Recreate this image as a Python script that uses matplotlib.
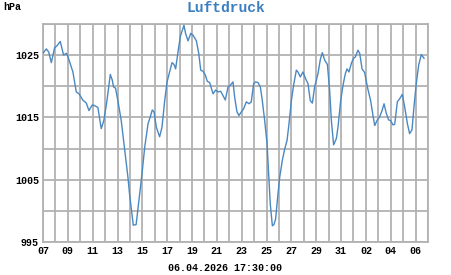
import matplotlib
matplotlib.use("Agg")
import matplotlib.pyplot as plt
from matplotlib.ticker import MultipleLocator, FixedLocator

# days since 07.03.2026 00:00 and pressure in hPa
days = [0.0, 0.27, 0.46, 0.67, 0.94, 1.13, 1.39, 1.66, 1.88, 2.0, 2.41, 2.68, 2.9,
        3.2, 3.49, 3.7, 3.97, 4.16, 4.42, 4.69, 4.9, 5.15, 5.42, 5.58, 5.68, 5.84,
        6.03, 6.3, 6.57, 6.84, 6.97, 7.27, 7.5, 7.72, 7.97, 8.19, 8.46, 8.64, 8.8,
        8.94, 9.13, 9.39, 9.58, 9.8, 9.99, 10.2, 10.39, 10.55, 10.68, 10.87, 11.06,
        11.22, 11.35, 11.49, 11.68, 11.9, 12.08, 12.35, 12.54, 12.7, 12.89, 13.07,
        13.23, 13.42, 13.69, 13.9, 14.09, 14.31, 14.5, 14.68, 14.9, 15.1, 15.3,
        15.43, 15.62, 15.78, 15.97, 16.16, 16.37, 16.59, 16.77, 16.96, 17.12, 17.31,
        17.5, 17.66, 17.85, 18.04, 18.2, 18.3, 18.47, 18.6, 18.73, 18.92, 19.06,
        19.27, 19.46, 19.65, 19.81, 20.0, 20.18, 20.4, 20.53, 20.72, 20.93, 21.15,
        21.34, 21.52, 21.69, 21.87, 22.14, 22.33, 22.49, 22.68, 22.9, 23.08, 23.22,
        23.4, 23.62, 23.75, 23.97, 24.16, 24.34, 24.48, 24.64, 24.83, 25.01, 25.15,
        25.36, 25.5, 25.69, 25.9, 26.12, 26.38, 26.57, 26.71, 26.92, 27.11, 27.3,
        27.46, 27.65, 27.83, 27.99, 28.18, 28.32, 28.53, 28.72, 28.93, 29.12, 29.34,
        29.52, 29.71, 29.87, 30.06, 30.25, 30.46, 30.6, 30.68]
pressure = [1025.3, 1026.0, 1025.5, 1023.8, 1026.2, 1026.5, 1027.2, 1025.0, 1025.3,
            1024.8, 1022.3, 1019.1, 1018.8, 1017.8, 1017.3, 1016.1, 1017.0, 1016.9,
            1016.6, 1013.2, 1014.5, 1017.7, 1021.9, 1021.0, 1019.9, 1019.7, 1017.7,
            1014.5, 1009.9, 1005.4, 1002.7, 997.7, 997.8, 1001.6, 1005.9, 1010.2,
            1014.0, 1015.1, 1016.2, 1015.9, 1013.4, 1011.9, 1013.4, 1017.7, 1020.7,
            1022.3, 1023.8, 1023.5, 1022.8, 1025.5, 1028.0, 1029.0, 1029.8, 1028.4,
            1027.3, 1028.5, 1028.2, 1027.3, 1025.3, 1022.6, 1022.4, 1021.8, 1020.8,
            1020.6, 1018.8, 1019.4, 1019.1, 1019.2, 1018.5, 1017.8, 1019.9, 1020.2,
            1020.7, 1018.3, 1015.9, 1015.3, 1015.9, 1016.4, 1017.5, 1017.2, 1017.5,
            1020.4, 1020.7, 1020.6, 1019.9, 1017.7, 1014.5, 1010.8, 1004.8, 1001.1,
            997.6, 997.8, 998.7, 1002.7, 1005.4, 1008.1, 1009.9, 1011.3, 1014.0,
            1017.7, 1020.2, 1022.6, 1022.3, 1021.5, 1022.3, 1021.2, 1020.4, 1017.7,
            1017.3, 1019.9, 1022.0, 1024.3, 1025.4, 1024.2, 1023.5, 1019.4, 1014.5,
            1010.6, 1011.6, 1013.4, 1017.7, 1020.2, 1022.0, 1022.8, 1022.3, 1023.7,
            1024.5, 1024.7, 1025.8, 1025.3, 1022.8, 1022.2, 1019.9, 1017.7, 1015.3,
            1013.7, 1014.6, 1015.1, 1016.1, 1017.2, 1015.6, 1014.6, 1014.5, 1013.8,
            1013.9, 1017.5, 1018.0, 1018.7, 1016.7, 1014.0, 1012.4, 1013.0, 1016.7,
            1020.5, 1023.4, 1025.1, 1024.7, 1024.5]

xtick_labels = ["07", "09", "11", "13", "15", "17", "19", "21", "23", "25",
                "27", "29", "31", "02", "04", "06"]
ytick_values = [995, 1005, 1015, 1025]

grid_col = "#b2b2b2"
line_col = "#4a88c2"
font = ["Liberation Mono", "DejaVu Sans Mono"]

fig = plt.figure(figsize=(4.51, 2.75), dpi=100)
ax = fig.add_axes([0.0953, 0.12, 0.8537, 0.7927])

ax.plot(days, pressure, color=line_col, lw=1.0, zorder=3)

ax.set_xlim(0, 31)
ax.set_ylim(995, 1030)
ax.xaxis.set_major_locator(FixedLocator(range(0, 31, 2)))
ax.set_xticklabels(xtick_labels)
ax.xaxis.set_minor_locator(MultipleLocator(1))
ax.yaxis.set_major_locator(FixedLocator(ytick_values))
ax.yaxis.set_minor_locator(MultipleLocator(5))
ax.grid(which="both", color=grid_col, lw=1.3)
ax.tick_params(which="both", length=0, pad=3)
for lab in ax.get_xticklabels() + ax.get_yticklabels():
    lab.set_family(font)
    lab.set_fontweight("bold")
    lab.set_fontsize(7.2)
for s in ax.spines.values():
    s.set_color(grid_col)
    s.set_linewidth(1.3)

fig.text(0.5, 0.97, "Luftdruck", ha="center", va="center", color="#3c7fc0",
         family=font, fontweight="bold", fontsize=10.5)
fig.text(0.008, 0.975, "hPa", ha="left", va="center", family=font,
         fontweight="bold", fontsize=7.2)
fig.text(0.5, 0.025, "06.04.2026 17:30:00", ha="center", va="center",
         family=font, fontweight="bold", fontsize=7.2)

fig.savefig("out.png", dpi=100)
